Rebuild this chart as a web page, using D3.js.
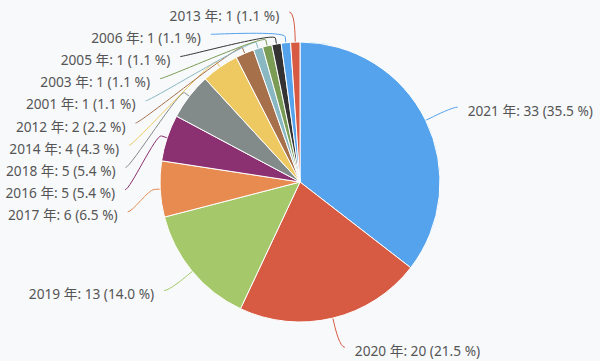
<!DOCTYPE html>
<html>
<head>
<meta charset="utf-8">
<script src="https://cdn.jsdelivr.net/npm/d3@7/dist/d3.min.js"></script>
<style>
html,body{margin:0;padding:0;background:#f8f9fb;}
svg{display:block;}
text{font-family:"Noto Sans","Noto Sans CJK JP",sans-serif;font-size:13.7px;fill:#555;}
</style>
</head>
<body>
<svg id="chart" width="600" height="361"></svg>
<script>
const categories = ["2021 年","2020 年","2019 年","2017 年","2016 年","2018 年","2014 年","2012 年","2001 年","2003 年","2005 年","2006 年","2013 年"];
const values = [33,20,13,6,5,5,4,2,1,1,1,1,1];
const palette = ["#54a3ec","#d75a42","#a5c96a","#e88b51","#8b3070","#838a8a","#eec961","#a6704b","#8ab8c2","#7a9c55","#333333"];

const W = 600, H = 361;
const cx = 300, cy = 182, r = 140;
const labelDistance = 30, padding = 5, connPad = 5, slotH = 22.2, breakOff = 6;

const svg = d3.select("#chart");
svg.append("rect").attr("width",W).attr("height",H).attr("fill","#f8f9fb");

const total = d3.sum(values);
const data = categories.map((c,i)=>({name:c, value:values[i], i}));
const pie = d3.pie().value(d=>d.value).sort(null);
const arcs = pie(data);
const arc = d3.arc().innerRadius(0).outerRadius(r);
const color = d3.scaleOrdinal().domain(d3.range(categories.length)).range(palette);

const g = svg.append("g").attr("transform",`translate(${cx},${cy})`);

// label layout
const R = r + labelDistance;
arcs.forEach(a=>{
  a.mid = (a.startAngle + a.endAngle)/2;
  a.left = a.mid > Math.PI;
  a.natY = -R*Math.cos(a.mid);
});
const leftL = arcs.filter(a=>a.left).sort((a,b)=>a.natY-b.natY);
const rightL = arcs.filter(a=>!a.left).sort((a,b)=>a.natY-b.natY);
[leftL,rightL].forEach(list=>{
  let prev = -Infinity;
  list.forEach(a=>{ a.ly = Math.max(a.natY, prev + slotH); prev = a.ly; });
});
arcs.forEach(a=>{
  const s = Math.max(-1, Math.min(1, a.ly / R));
  const ang = Math.asin(s);
  a.lx = (a.left ? -1 : 1) * (Math.cos(ang)*R + padding);
});

// connectors
const lines = g.append("g");
arcs.forEach(a=>{
  const t = {x: r*Math.sin(a.mid), y: -r*Math.cos(a.mid)};
  const b = {x: (r+breakOff)*Math.sin(a.mid), y: -(r+breakOff)*Math.cos(a.mid)};
  const c1x = a.lx + (a.left ? 5 : -5);
  const p = d3.path();
  p.moveTo(a.lx, a.ly);
  p.bezierCurveTo(c1x, a.ly, 2*b.x - t.x, 2*b.y - t.y, b.x, b.y);
  p.lineTo(t.x, t.y);
  lines.append("path").attr("d", p.toString()).attr("fill","none")
    .attr("stroke", color(a.data.i)).attr("stroke-width",1);
});

// slices
g.append("g").selectAll("path").data(arcs).join("path")
  .attr("d", arc).attr("fill", d=>color(d.data.i))
  .attr("stroke","#ffffff").attr("stroke-width",1).attr("stroke-linejoin","round");

// labels
g.append("g").selectAll("text").data(arcs).join("text")
  .attr("x", d=> d.lx + (d.left ? -(connPad+5) : (connPad+5)))
  .attr("y", d=> d.ly + 3)
  .attr("dominant-baseline","central")
  .attr("text-anchor", d=> d.left ? "end" : "start")
  .text(d=> `${d.data.name}: ${d.data.value} (${(d.data.value/total*100).toFixed(1)} %)`);
</script>
</body>
</html>
